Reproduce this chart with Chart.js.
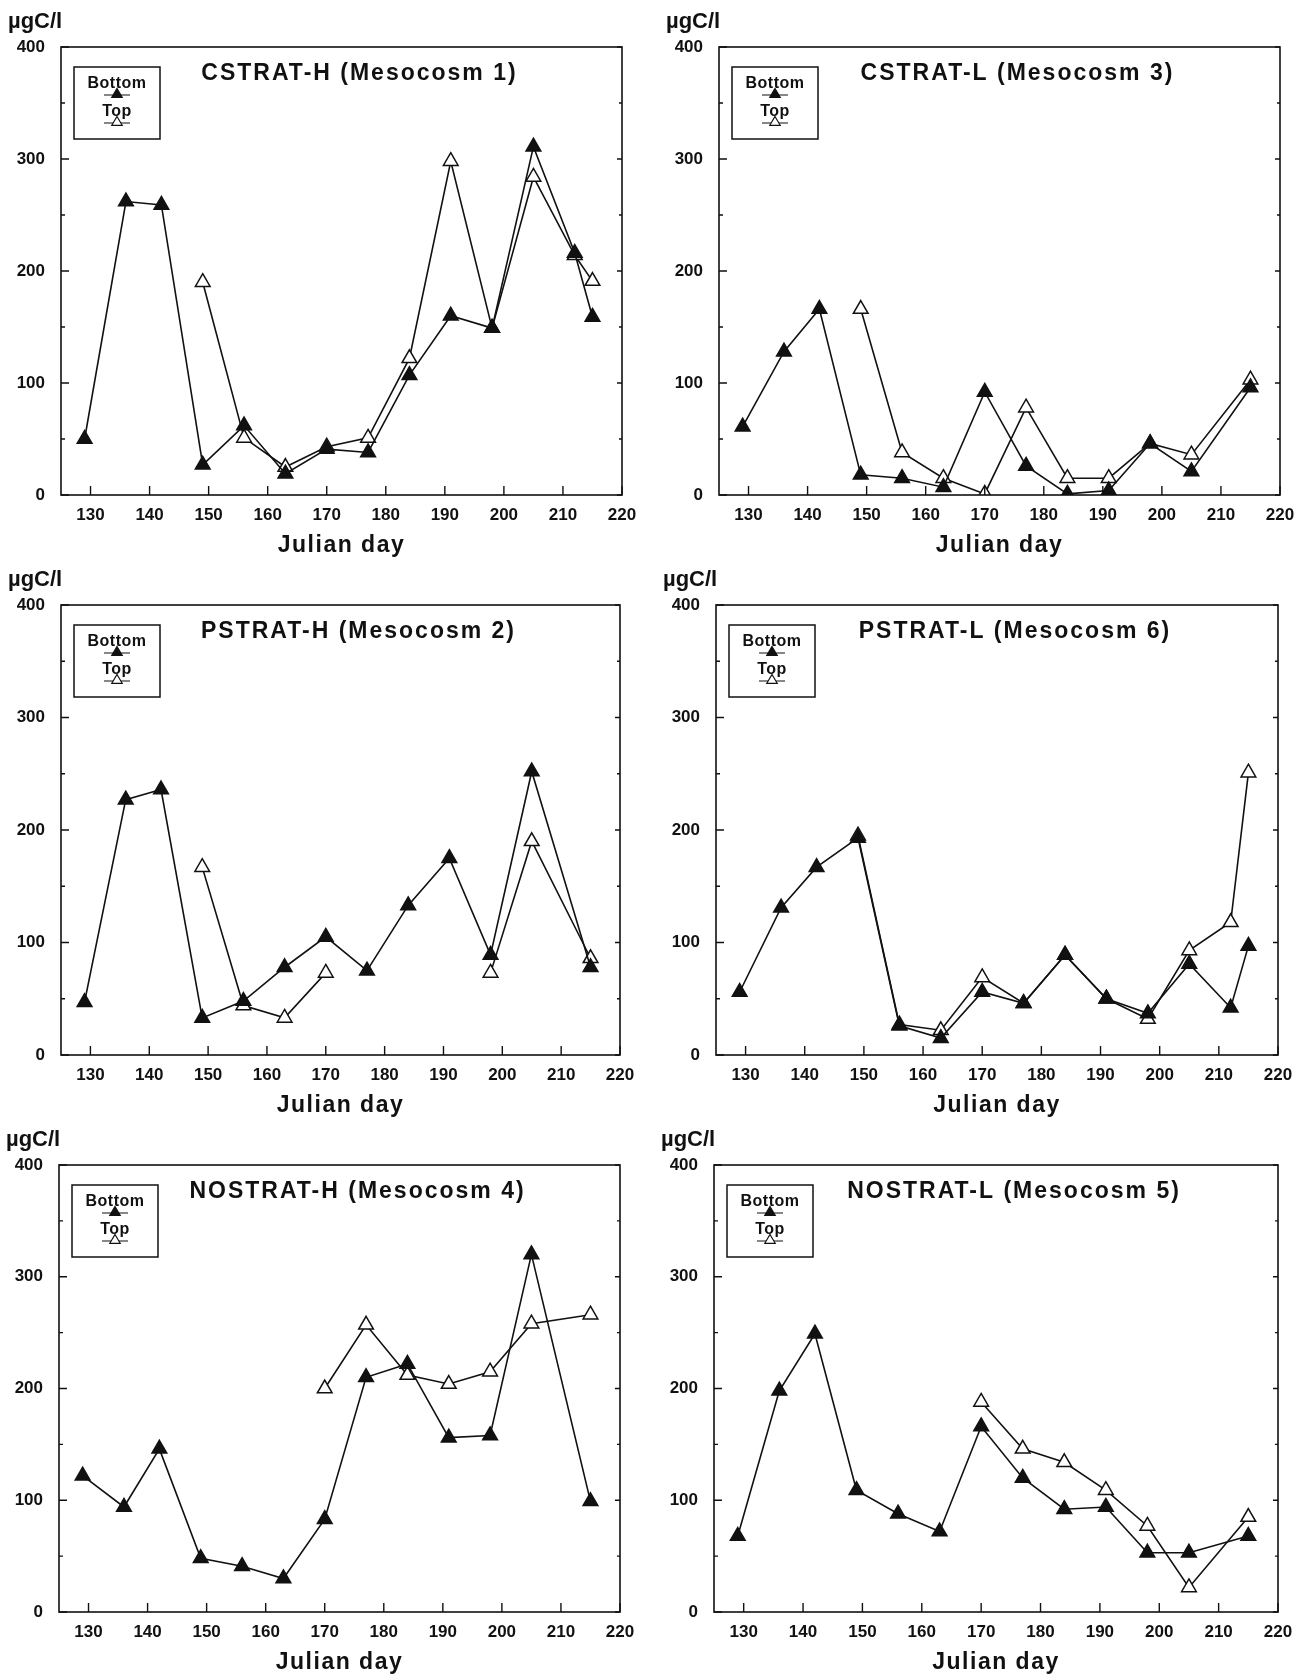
<!DOCTYPE html>
<html>
<head>
<meta charset="utf-8">
<script src="https://cdn.jsdelivr.net/npm/chart.js@4.4.1/dist/chart.umd.min.js"></script>
<style>
    html, body { margin: 0; padding: 0; background: #fff; }
    body { width: 1316px; height: 1677px; position: relative; overflow: hidden; }
    .panel { position: absolute; }
</style>
</head>
<body>
<script>
// sampling days (Julian day)
const days = [129, 136, 142, 149, 156, 163, 170, 177, 184, 191, 198, 205, 212, 215];

// µgC/l, null = not sampled
const cstratHBottom = [50, 262, 259, 27, 62, 19, 41, 38, 107, 160, 149, 311, 216, 159];
const cstratHTop = [null, null, null, 190, 51, 25, 43, 51, 122, 298, 149, 284, 214, 191];

const cstratLBottom = [61, 128, 166, 18, 15, 7, 92, 26, 1, 4, 46, 21, null, 96];
const cstratLTop = [null, null, null, 166, 38, 15, 1, 78, 15, 15, 46, 36, null, 103];

const pstratHBottom = [47, 227, 236, 33, 48, 78, 105, 75, 133, 175, 89, 252, null, 78];
const pstratHTop = [null, null, null, 167, 44, 33, 73, null, null, null, 73, 190, null, 86];

const pstratLBottom = [56, 131, 167, 193, 26, 15, 56, 46, 89, 50, 37, 81, 42, 97];
const pstratLTop = [null, null, null, 195, 27, 22, 69, 46, 89, 50, 32, 93, 118, 251];

const nostratHBottom = [122, 94, 146, 48, 41, 30, 83, 210, 222, 156, 158, 320, null, 99];
const nostratHTop = [null, null, null, null, null, null, 200, 257, 212, 204, 215, 258, null, 266];

const nostratLBottom = [68, 198, 249, 109, 88, 72, 166, 120, 92, 94, 53, 53, null, 68];
const nostratLTop = [null, null, null, null, null, null, 188, 146, 134, 109, 77, 22, null, 85];

const panelTitles = [
    'CSTRAT-H (Mesocosm 1)', 'CSTRAT-L (Mesocosm 3)',
    'PSTRAT-H (Mesocosm 2)', 'PSTRAT-L (Mesocosm 6)',
    'NOSTRAT-H (Mesocosm 4)', 'NOSTRAT-L (Mesocosm 5)'
];
const panelBottom = [cstratHBottom, cstratLBottom, pstratHBottom, pstratLBottom, nostratHBottom, nostratLBottom];
const panelTop = [cstratHTop, cstratLTop, pstratHTop, pstratLTop, nostratHTop, nostratLTop];

const xTicks = [130, 140, 150, 160, 170, 180, 190, 200, 210, 220];
const yTicks = [0, 100, 200, 300, 400];
const yMinor = [50, 150, 250, 350];
const unitLabel = 'µgC/l';
const xTitle = 'Julian day';

// plot boxes on the page: left, top, right, bottom
const boxes = [
    [61, 47, 622, 495], [719, 47, 1280, 495],
    [61, 605, 620, 1055], [716, 605, 1278, 1055],
    [59, 1165, 620, 1612], [714, 1165, 1278, 1612]
];

const PAD_L = 58, PAD_T = 47, PAD_R = 30, PAD_B = 66;
const FONT = '"Liberation Sans", Arial, sans-serif';
const INK = '#111';

function toPoints(vals) {
    // skip unsampled days, gaps longer than a week and a half stay open (spanGaps)
    return days.map((d, i) => ({ x: d, y: vals[i] })).filter(p => p.y !== null);
}

function tri(ctx, x, y, r, filled) {
    ctx.beginPath();
    ctx.moveTo(x, y - r);
    ctx.lineTo(x + r * 0.95, y + r * 0.6);
    ctx.lineTo(x - r * 0.95, y + r * 0.6);
    ctx.closePath();
    ctx.fillStyle = filled ? INK : '#fff';
    ctx.fill();
    ctx.stroke();
}

const decor = {
    id: 'decor',
    afterDraw(chart, args, opts) {
        const ctx = chart.ctx;
        const a = chart.chartArea;
        const xs = chart.scales.x, ys = chart.scales.y;
        ctx.save();
        ctx.strokeStyle = INK;
        ctx.lineWidth = 1.6;
        ctx.strokeRect(a.left, a.top, a.right - a.left, a.bottom - a.top);

        // inward tick marks
        ctx.lineWidth = 1.4;
        ctx.beginPath();
        xs.ticks.forEach(t => {
            const px = xs.getPixelForValue(t.value);
            ctx.moveTo(px, a.bottom);
            ctx.lineTo(px, a.bottom - 9);
        });
        ys.ticks.forEach(t => {
            const py = ys.getPixelForValue(t.value);
            ctx.moveTo(a.left, py); ctx.lineTo(a.left + 8, py);
            ctx.moveTo(a.right, py); ctx.lineTo(a.right - 5, py);
        });
        yMinor.forEach(v => {
            const py = ys.getPixelForValue(v);
            ctx.moveTo(a.left, py); ctx.lineTo(a.left + 4, py);
            ctx.moveTo(a.right, py); ctx.lineTo(a.right - 3, py);
        });
        ctx.stroke();

        // unit label above y axis
        ctx.fillStyle = INK;
        ctx.font = 'bold 22px ' + FONT;
        ctx.textAlign = 'left';
        ctx.textBaseline = 'middle';
        ctx.fillText(unitLabel, a.left - 53, a.top - 25);

        // panel title
        ctx.font = 'bold 23px ' + FONT;
        ctx.letterSpacing = '2px';
        ctx.textAlign = 'center';
        ctx.fillText(opts.title, (a.left + a.right) / 2 + 18, a.top + 27);

        // x axis title
        ctx.font = 'bold 23px ' + FONT;
        ctx.letterSpacing = '1.5px';
        ctx.fillText(xTitle, (a.left + a.right) / 2, a.bottom + 51);

        // legend box
        const bx = a.left + 13, by = a.top + 20, bw = 86, bh = 72;
        ctx.lineWidth = 1.5;
        ctx.strokeRect(bx, by, bw, bh);
        const cx = bx + bw / 2;
        ctx.font = 'bold 16px ' + FONT;
        ctx.letterSpacing = '0.5px';
        ctx.fillText('Bottom', cx, by + 17);
        ctx.fillText('Top', cx, by + 45);
        ctx.letterSpacing = '0px';
        ctx.lineWidth = 1.2;
        ctx.beginPath();
        ctx.moveTo(cx - 13, by + 28); ctx.lineTo(cx + 13, by + 28);
        ctx.moveTo(cx - 13, by + 56); ctx.lineTo(cx + 13, by + 56);
        ctx.stroke();
        tri(ctx, cx, by + 27, 5.5, true);
        tri(ctx, cx, by + 55, 5.5, false);
        ctx.restore();
    }
};

function seriesStyle(label, vals, filled) {
    return {
        label: label,
        data: toPoints(vals),
        borderColor: INK,
        backgroundColor: filled ? INK : '#fff',
        pointBackgroundColor: filled ? INK : '#fff',
        pointBorderColor: INK,
        pointStyle: 'triangle',
        pointRadius: 8.5,
        pointBorderWidth: 1.5,
        borderWidth: 1.6,
        tension: 0,
        fill: false,
        spanGaps: 11
    };
}

boxes.forEach((box, i) => {
    const [L, T, R, B] = box;
    const div = document.createElement('div');
    div.className = 'panel';
    const w = (R - L) + PAD_L + PAD_R;
    const h = (B - T) + PAD_T + PAD_B;
    div.style.left = (L - PAD_L) + 'px';
    div.style.top = (T - PAD_T) + 'px';
    const canvas = document.createElement('canvas');
    canvas.width = w;
    canvas.height = h;
    div.appendChild(canvas);
    document.body.appendChild(div);

    new Chart(canvas.getContext('2d'), {
        type: 'line',
        data: {
            datasets: [
                seriesStyle('Bottom', panelBottom[i], true),
                seriesStyle('Top', panelTop[i], false)
            ]
        },
        options: {
            responsive: false,
            devicePixelRatio: 1,
            animation: false,
            layout: { padding: { top: PAD_T, right: PAD_R, left: 0, bottom: 0 } },
            plugins: {
                legend: { display: false },
                tooltip: { enabled: false },
                title: { display: false },
                decor: { title: panelTitles[i] }
            },
            scales: {
                x: {
                    type: 'linear',
                    min: 125,
                    max: 220,
                    afterBuildTicks: s => { s.ticks = xTicks.map(v => ({ value: v })); },
                    afterFit: s => { s.height = PAD_B; },
                    grid: { display: false, drawTicks: false },
                    border: { display: false },
                    ticks: {
                        color: INK,
                        padding: 10,
                        maxRotation: 0,
                        autoSkip: false,
                        font: { family: FONT, size: 17, weight: 'bold' }
                    }
                },
                y: {
                    type: 'linear',
                    min: 0,
                    max: 400,
                    afterBuildTicks: s => { s.ticks = yTicks.map(v => ({ value: v })); },
                    afterFit: s => { s.width = PAD_L; },
                    grid: { display: false, drawTicks: false },
                    border: { display: false },
                    ticks: {
                        color: INK,
                        padding: 16,
                        font: { family: FONT, size: 17, weight: 'bold' }
                    }
                }
            }
        },
        plugins: [decor]
    });
});
</script>
</body>
</html>
